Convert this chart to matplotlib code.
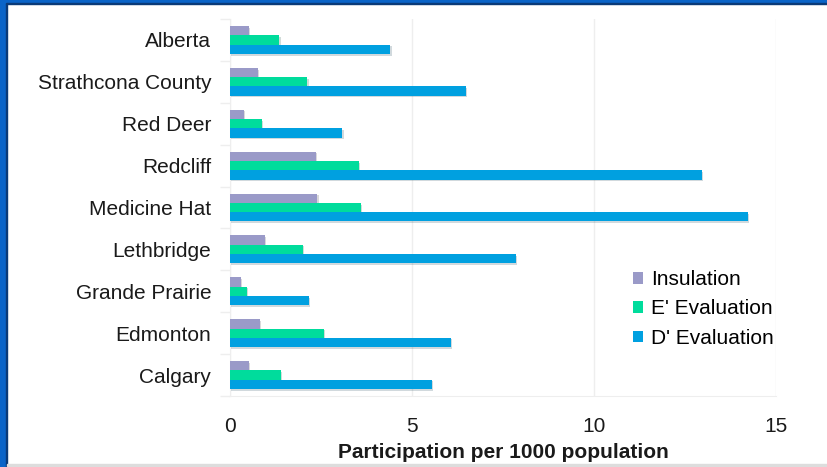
import matplotlib
matplotlib.use("Agg")
import matplotlib.pyplot as plt
import matplotlib.patheffects as pe
from matplotlib.patches import Rectangle
import numpy as np

plt.rcParams['font.family'] = ['Liberation Sans', 'DejaVu Sans']

categories = ["Alberta", "Strathcona County", "Red Deer", "Redcliff", "Medicine Hat",
              "Lethbridge", "Grande Prairie", "Edmonton", "Calgary"]
insulation = [0.52, 0.77, 0.38, 2.36, 2.40, 0.96, 0.30, 0.82, 0.52]
e_eval = [1.35, 2.12, 0.88, 3.54, 3.60, 2.00, 0.47, 2.58, 1.40]
d_eval = [4.40, 6.48, 3.08, 12.97, 14.23, 7.86, 2.17, 6.07, 5.55]
series_names = ["Insulation", "E' Evaluation", "D' Evaluation"]
colors = ["#9a9ac8", "#00dc9c", "#00a0e0"]
xticks = [0, 5, 10, 15]

W, H = 828, 467
fig = plt.figure(figsize=(W/100, H/100), dpi=100)
ax = fig.add_axes([230/W, 1-396/H, (776-230)/W, (396-19)/H])

n = len(categories)
y = np.arange(n)[::-1]
h = 0.222
shadow = [pe.SimplePatchShadow(offset=(1, -1.2), alpha=0.18), pe.Normal()]
for vals, off, col, name in zip([insulation, e_eval, d_eval], [h, 0, -h], colors, series_names):
    bars = ax.barh(y + off, vals, height=h, color=col, label=name, zorder=3)
    for b in bars:
        b.set_path_effects(shadow)

FS = 15
ax.set_xlim(0, 15)
ax.set_ylim(-0.5, n - 0.5)
ax.set_yticks(y)
ax.set_yticklabels(categories, fontsize=FS, color="#1a1a1a")
ax.set_yticks(np.arange(-0.5, n, 1), minor=True)
ax.tick_params(axis='y', which='major', length=0, pad=13.5)
ax.tick_params(axis='y', which='minor', length=7, color="#eeeeee", width=1)
ax.set_xticks(xticks)
ax.set_xticklabels([str(t) for t in xticks], fontsize=FS, color="#1a1a1a")
ax.tick_params(axis='x', length=0, pad=15)
ax.grid(axis='x', color="#eeeeee", linewidth=1, zorder=0)
for s in ["top", "right"]:
    ax.spines[s].set_visible(False)
ax.spines["left"].set_color("#eeeeee")
ax.spines["bottom"].set_color("#eeeeee")
ax.set_xlabel("Participation per 1000 population", fontsize=FS, fontweight='bold',
              color="#1a1a1a", labelpad=5)

leg = ax.legend(loc="upper left", bbox_to_anchor=((633-230)/(776-230), (396-270)/(396-19)),
                frameon=False, fontsize=FS, handlelength=0.5, handleheight=0.5,
                handletextpad=0.35, labelspacing=0.5, borderaxespad=0, borderpad=0)
for hnd in leg.legend_handles:
    hnd.set_path_effects([])

# border decorations
fig.patches.append(Rectangle((0, 0), 6/W, 1, transform=fig.transFigure, color="#0a64c8", zorder=10))
fig.patches.append(Rectangle((6/W, 0), 1.5/W, 1-3/H, transform=fig.transFigure, color="#0a3a78", zorder=10))
fig.patches.append(Rectangle((0, 1-3/H), 1, 3/H, transform=fig.transFigure, color="#0a64c8", zorder=10))
fig.patches.append(Rectangle((6/W, 1-4/H), 1, 1/H, transform=fig.transFigure, color="#0a3a78", zorder=10))
fig.patches.append(Rectangle((7/W, 1/H), 1, 2/H, transform=fig.transFigure, color="#dddddd", zorder=10))

fig.savefig("out.png", dpi=100)
